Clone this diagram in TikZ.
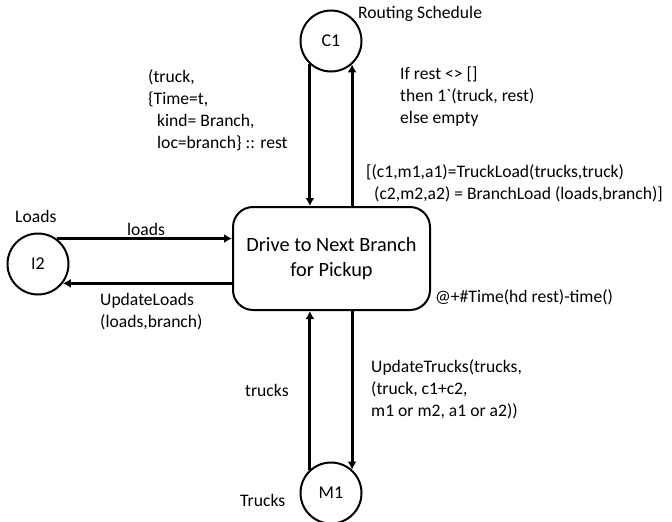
\documentclass[tikz,border=0pt]{standalone}
\usepackage{fontspec}
\setmainfont{Carlito}
\newfontfamily\rawfont{Carlito}
\usetikzlibrary{arrows.meta}
\begin{document}
\begin{tikzpicture}[x=1pt,y=-1pt,
  place/.style={circle,draw,line width=2pt,minimum size=61pt,inner sep=0pt,font=\fontsize{18}{22}\selectfont},
  trans/.style={draw,line width=2pt,rounded corners=20pt,minimum width=197pt,minimum height=103pt,align=center,font=\fontsize{20.3}{25}\selectfont},
  lbl/.style={inner sep=0pt,align=left,font=\fontsize{17.6}{22}\selectfont},
  arc/.style={line width=3pt,-{Latex[length=8pt,width=9pt]}}]
\useasboundingbox (0,0) rectangle (672,522);
\node[trans] (T) at (331.5,258.5) {Drive to Next Branch\\for Pickup};
\node[place] (C1) at (331,41) {C1};
\node[place] (I2) at (38,264) {I2};
\node[place] (M1) at (331,493) {M1};
% labels
\node[lbl,anchor=west] (rs) at (358,14) {Routing Schedule};
\node[lbl,anchor=west] (in1) at (148,110) {(truck,\\\{Time=t,\\\hspace*{9pt}kind= Branch,\\\hspace*{9pt}loc=branch\} :: rest};
\node[lbl,anchor=west] (out1) at (400,97) {If rest <> []\\then 1{\rawfont`}(truck, rest)\\else empty};
\node[lbl,anchor=west] (grd) at (366,183) {[(c1,m1,a1)=TruckLoad(trucks,truck)\\\hspace*{8pt}(c2,m2,a2) = BranchLoad (loads,branch)]};
\node[lbl,anchor=west] (ld) at (15,216) {Loads};
\node[lbl] (in2) at (146,229) {loads};
\node[lbl,anchor=west] (out2) at (100,312) {UpdateLoads\\(loads,branch)};
\node[lbl,anchor=west] (tm) at (435,297) {@+\#Time(hd rest)-time()};
\node[lbl,anchor=west] (in3) at (245,390) {trucks};
\node[lbl,anchor=west] (out3) at (371,389) {UpdateTrucks(trucks,\\(truck, c1+c2,\\m1 or m2, a1 or a2))};
\node[lbl,anchor=west] (tr) at (240,500) {Trucks};
% arcs
\draw[arc] (C1.228) -- (C1.228 |- T.north);
\draw[arc] (C1.312 |- T.north) -- (C1.312);
\draw[arc] (M1.132) -- (M1.132 |- T.south);
\draw[arc] (M1.48 |- T.south) -- (M1.48);
\draw[arc] (I2.54) -- (I2.54 -| T.west);
\draw[arc] (I2.322 -| T.west) -- (I2.322);
\end{tikzpicture}
\end{document}
